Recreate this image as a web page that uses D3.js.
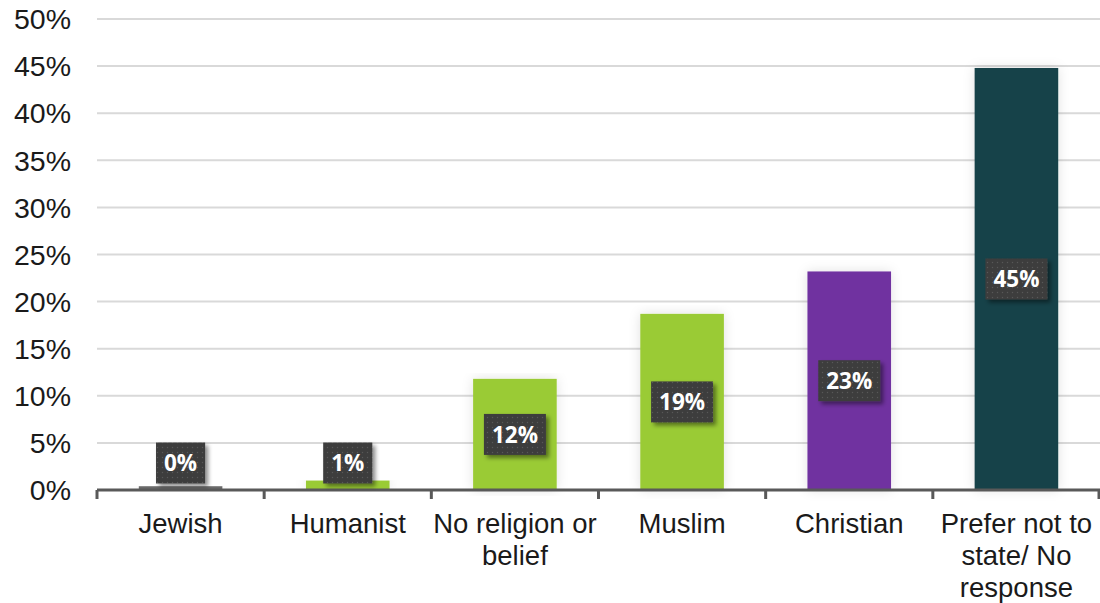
<!DOCTYPE html>
<html><head><meta charset="utf-8">
<script src="https://cdn.jsdelivr.net/npm/d3@7"></script>
<style>body{margin:0;background:#fff;}svg{display:block;}</style>
</head><body>
<svg id="c" width="1100" height="603"></svg>
<script>
const categories = ["Jewish", "Humanist", "No religion or belief", "Muslim", "Christian", "Prefer not to state/ No response"];
const categoryLines = [["Jewish"], ["Humanist"], ["No religion or", "belief"], ["Muslim"], ["Christian"], ["Prefer not to", "state/ No", "response"]];
const values = [0.4, 1.0, 11.8, 18.7, 23.2, 44.8];
const colors = ["#6b6b6b", "#9acb34", "#9acb34", "#9acb34", "#7030a0", "#134248"];
const yTicks = [0, 5, 10, 15, 20, 25, 30, 35, 40, 45, 50];

(function () {
const svg = d3.select("#c");
const pLeft = 97, pRight = 1100, pTop = 19, pBottom = 490;
const x = d3.scaleBand().domain(categories).range([pLeft, pRight]).paddingInner(0.5).paddingOuter(0.25);
const y = d3.scaleLinear().domain([0, 50]).range([pBottom, pTop]);

const defs = svg.append("defs");
const pat = defs.append("pattern").attr("id", "dots").attr("width", 5).attr("height", 5).attr("patternUnits", "userSpaceOnUse");
pat.append("rect").attr("width", 5).attr("height", 5).attr("fill", "#3d3d3d");
pat.append("circle").attr("cx", 2.5).attr("cy", 2.5).attr("r", 0.7).attr("fill", "#585858");
const f = defs.append("filter").attr("id", "lblShadow").attr("x", "-30%").attr("y", "-30%").attr("width", "160%").attr("height", "160%");
f.append("feDropShadow").attr("dx", 3).attr("dy", 3).attr("stdDeviation", 2).attr("flood-color", "#000").attr("flood-opacity", 0.45);
const fb = defs.append("filter").attr("id", "barShadow").attr("x", "-30%").attr("y", "-5%").attr("width", "160%").attr("height", "110%");
fb.append("feDropShadow").attr("dx", 0).attr("dy", 0).attr("stdDeviation", 6).attr("flood-color", "#000").attr("flood-opacity", 0.12);

// gridlines
svg.append("g").selectAll("line").data(yTicks.filter(d => d > 0)).join("line")
  .attr("x1", pLeft).attr("x2", pRight).attr("y1", d => y(d)).attr("y2", d => y(d))
  .attr("stroke", "#d9d9d9").attr("stroke-width", 2);

// y labels
svg.append("g").selectAll("text").data(yTicks).join("text")
  .attr("x", 71).attr("y", d => y(d)).attr("dy", "0.36em")
  .attr("text-anchor", "end").attr("font-family", "Liberation Sans, Arial, sans-serif")
  .attr("font-size", 28.5).attr("fill", "#1a1a1a").text(d => d + "%");

// bars
svg.append("g").selectAll("rect").data(categories).join("rect")
  .attr("x", d => x(d)).attr("width", x.bandwidth())
  .attr("y", (d, i) => y(values[i])).attr("height", (d, i) => y(0) - y(values[i]))
  .attr("fill", (d, i) => colors[i]).attr("filter", "url(#barShadow)");

// axis
const axisG = svg.append("g");
axisG.append("line").attr("x1", pLeft).attr("x2", pRight).attr("y1", pBottom).attr("y2", pBottom)
  .attr("stroke", "#595959").attr("stroke-width", 3);
const bounds = categories.map(c => x(c) - x.step() * x.paddingInner() / 2);
bounds.push(pRight - 1);
axisG.selectAll("line.t").data(bounds).join("line").attr("class", "t")
  .attr("x1", d => d).attr("x2", d => d).attr("y1", pBottom).attr("y2", pBottom + 9)
  .attr("stroke", "#595959").attr("stroke-width", 3);

// x labels
const xl = svg.append("g").selectAll("text").data(categories).join("text")
  .attr("text-anchor", "middle").attr("font-family", "Liberation Sans, Arial, sans-serif")
  .attr("font-size", 27.5).attr("fill", "#1a1a1a");
xl.each(function(d, i) {
  const t = d3.select(this);
  categoryLines[i].forEach((ln, j) => {
    t.append("tspan").attr("x", x(d) + x.bandwidth() / 2).attr("y", 533 + j * 32).text(ln);
  });
});

// data labels
const lg = svg.append("g").selectAll("g").data(categories).join("g");
lg.each(function(d, i) {
  const g = d3.select(this);
  const cx = x(d) + x.bandwidth() / 2;
  const mid = (y(values[i]) + y(0)) / 2;
  const cy = Math.min(mid, y(0) - 27);
  const txt = g.append("text").attr("x", cx).attr("y", cy).attr("dy", "0.36em")
    .attr("text-anchor", "middle").attr("font-family", "Open Sans, sans-serif")
    .attr("font-weight", "bold").attr("font-size", 22.5).attr("fill", "#fff")
    .text(Math.round(values[i]) + "%");
  const w = txt.node().getComputedTextLength() + 16;
  g.insert("rect", "text").attr("x", cx - w / 2).attr("y", cy - 20.5).attr("width", w).attr("height", 41)
    .attr("fill", "url(#dots)").attr("filter", "url(#lblShadow)");
});
})();
</script>
</body></html>
